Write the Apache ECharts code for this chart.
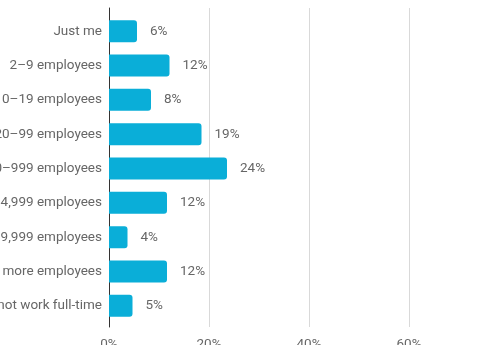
<!DOCTYPE html>
<html>
<head>
<meta charset="utf-8">
<script src="https://cdn.jsdelivr.net/npm/echarts@6/dist/echarts.min.js"></script>
<style>html,body{margin:0;padding:0;background:#fff;}#c{width:480px;height:345px;}</style>
</head>
<body>
<div id="c"></div>
<script>
var categories = ["Just me", "2–9 employees", "10–19 employees", "20–99 employees", "100–999 employees", "1,000–4,999 employees", "5,000–9,999 employees", "10,000 or more employees", "I do not work full-time"];
var values = [5.6, 12.1, 8.4, 18.5, 23.6, 11.6, 3.7, 11.6, 4.7];
var xTicks = [0, 20, 40, 60, 80];

var chart = echarts.init(document.getElementById('c'));
var font = 'Roboto';
var textColor = '#666666';
chart.setOption({
  animation: false,
  grid: [
    {left: 109, top: 14, width: 400, height: 309, containLabel: false, outerBoundsMode: 'none'},
    {left: 109, top: 8, width: 400, height: 319, containLabel: false, outerBoundsMode: 'none'}
  ],
  xAxis: [
    {gridIndex: 0, type: 'value', min: xTicks[0], max: xTicks[xTicks.length-1], interval: 20, show: false},
    {gridIndex: 1, type: 'value', min: xTicks[0], max: xTicks[xTicks.length-1], interval: 20,
      axisLine: {show: false}, axisTick: {show: false},
      splitLine: {show: true, lineStyle: {color: '#d9d9d9', width: 1}},
      axisLabel: {margin: 11, color: textColor, fontFamily: font, fontSize: 13.5, formatter: '{value}%'}}
  ],
  yAxis: [
    {gridIndex: 0, type: 'category', inverse: true, data: categories,
      axisLine: {show: false}, axisTick: {show: false},
      axisLabel: {margin: 7, color: textColor, fontFamily: font, fontSize: 13.5}},
    {gridIndex: 1, type: 'category', data: [''],
      axisLine: {show: true, lineStyle: {color: '#333333', width: 1}}, axisTick: {show: false},
      axisLabel: {show: false}}
  ],
  series: [{
    type: 'bar', xAxisIndex: 0, yAxisIndex: 0,
    data: values, barWidth: 22,
    itemStyle: {color: '#0aaed8', borderRadius: [0, 3, 3, 0]},
    label: {show: true, position: 'right', distance: 13, color: textColor, fontFamily: font, fontSize: 13.5,
      formatter: function(p){ return Math.round(p.value) + '%'; }}
  }]
});
</script>
</body>
</html>
